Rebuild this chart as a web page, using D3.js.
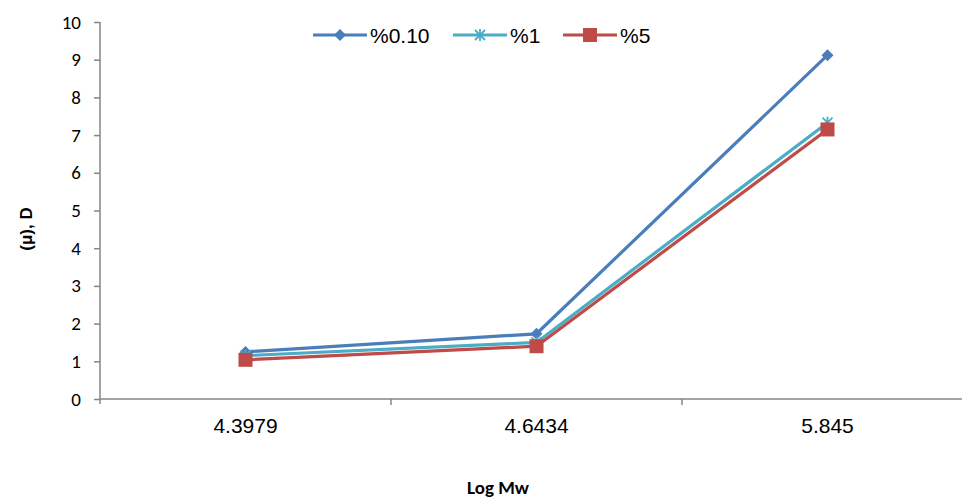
<!DOCTYPE html>
<html><head><meta charset="utf-8">
<script src="https://cdn.jsdelivr.net/npm/d3@7"></script>
<style>body{margin:0;background:#fff}svg{display:block}</style>
</head><body>
<svg id="c" width="962" height="500"></svg>
<script>
const categories = ["4.3979", "4.6434", "5.845"];
const seriesNames = ["%0.10", "%1", "%5"];
const s010 = [1.25, 1.73, 9.12];
const s1 = [1.15, 1.50, 7.33];
const s5 = [1.04, 1.40, 7.15];
const yTicks = [0,1,2,3,4,5,6,7,8,9,10];
const colors = ["#4a7ebb", "#4bacc6", "#be4b48"];
const markers = ["diamond", "asterisk", "square"];
const allSeries = [s010, s1, s5];

(function(){
const svg = d3.select("#c");
const mLeft = 100, mRight = 973, mTop = 22, mBottom = 399;
const x = d3.scaleBand().domain(categories).range([mLeft, mRight]);
const y = d3.scaleLinear().domain([0, 10]).range([mBottom, mTop]);
const axisColor = "#868686";

// Y axis
const ya = svg.append("g").attr("transform", `translate(${mLeft},0)`)
  .call(d3.axisLeft(y).tickValues(yTicks).tickSize(6).tickPadding(13).tickSizeOuter(0));
ya.select(".domain").remove();
ya.selectAll(".tick line").attr("stroke", axisColor).attr("stroke-width", 1.5);
ya.selectAll("text").attr("font-family", "Carlito, Calibri, 'Liberation Sans', sans-serif").attr("font-size", 19).attr("fill", "#000");
svg.append("line").attr("x1", mLeft).attr("x2", mLeft).attr("y1", mTop).attr("y2", mBottom + 5)
  .attr("stroke", axisColor).attr("stroke-width", 1.5);

// X axis
const xa = svg.append("g").attr("transform", `translate(0,${mBottom})`)
  .call(d3.axisBottom(x).tickSize(0).tickPadding(19));
xa.select(".domain").remove();
xa.selectAll("text").attr("font-family", "'Liberation Sans', Arial, sans-serif").attr("font-size", 21).attr("fill", "#000");
svg.append("line").attr("x1", mLeft).attr("x2", mRight).attr("y1", mBottom).attr("y2", mBottom)
  .attr("stroke", axisColor).attr("stroke-width", 1.5);
categories.forEach((c) => {
  const bx = x(c) + x.bandwidth();
  svg.append("line").attr("x1", bx).attr("x2", bx).attr("y1", mBottom).attr("y2", mBottom + 6)
    .attr("stroke", axisColor).attr("stroke-width", 1.5);
});

function drawMarker(g, type, cx, cy, color) {
  if (type === "diamond") {
    g.append("path").attr("d", `M${cx},${cy-6}L${cx+6},${cy}L${cx},${cy+6}L${cx-6},${cy}Z`).attr("fill", color);
  } else if (type === "square") {
    g.append("rect").attr("x", cx-7).attr("y", cy-7).attr("width", 14).attr("height", 14).attr("fill", color);
  } else {
    const r = 5;
    const p = `M${cx-r},${cy-r}L${cx+r},${cy+r}M${cx+r},${cy-r}L${cx-r},${cy+r}M${cx},${cy-r-1}L${cx},${cy+r+1}`;
    g.append("path").attr("d", p).attr("stroke", color).attr("stroke-width", 1.8).attr("fill", "none");
  }
}

const line = d3.line().x((d, i) => x(categories[i]) + x.bandwidth() / 2).y(d => y(d));
allSeries.forEach((s, k) => {
  const g = svg.append("g");
  g.append("path").datum(s).attr("d", line).attr("fill", "none").attr("stroke", colors[k])
    .attr("stroke-width", 3.2).attr("stroke-linejoin", "round");
  s.forEach((v, i) => drawMarker(g, markers[k], x(categories[i]) + x.bandwidth() / 2, y(v), colors[k]));
});

// Legend
const legX = [313, 453, 563];
seriesNames.forEach((n, k) => {
  const g = svg.append("g");
  const ly = 35;
  g.append("line").attr("x1", legX[k]).attr("x2", legX[k] + 54).attr("y1", ly).attr("y2", ly)
    .attr("stroke", colors[k]).attr("stroke-width", 3.2);
  drawMarker(g, markers[k], legX[k] + 27, ly, colors[k]);
  g.append("text").attr("x", legX[k] + 57).attr("y", ly + 8).text(n)
    .attr("font-family", "'Liberation Sans', Arial, sans-serif").attr("font-size", 21).attr("fill", "#000");
});

// Axis titles
svg.append("text").attr("x", 498).attr("y", 494).attr("text-anchor", "middle").text("Log Mw")
  .attr("font-family", "Carlito, Calibri, 'Liberation Sans', sans-serif").attr("font-weight", "bold").attr("font-size", 19);
svg.append("text").attr("transform", "translate(32,229) rotate(-90)").attr("text-anchor", "middle").text("(μ), D")
  .attr("font-family", "'Liberation Sans', Arial, sans-serif").attr("font-weight", "bold").attr("font-size", 17);
})();
</script>
</body></html>
